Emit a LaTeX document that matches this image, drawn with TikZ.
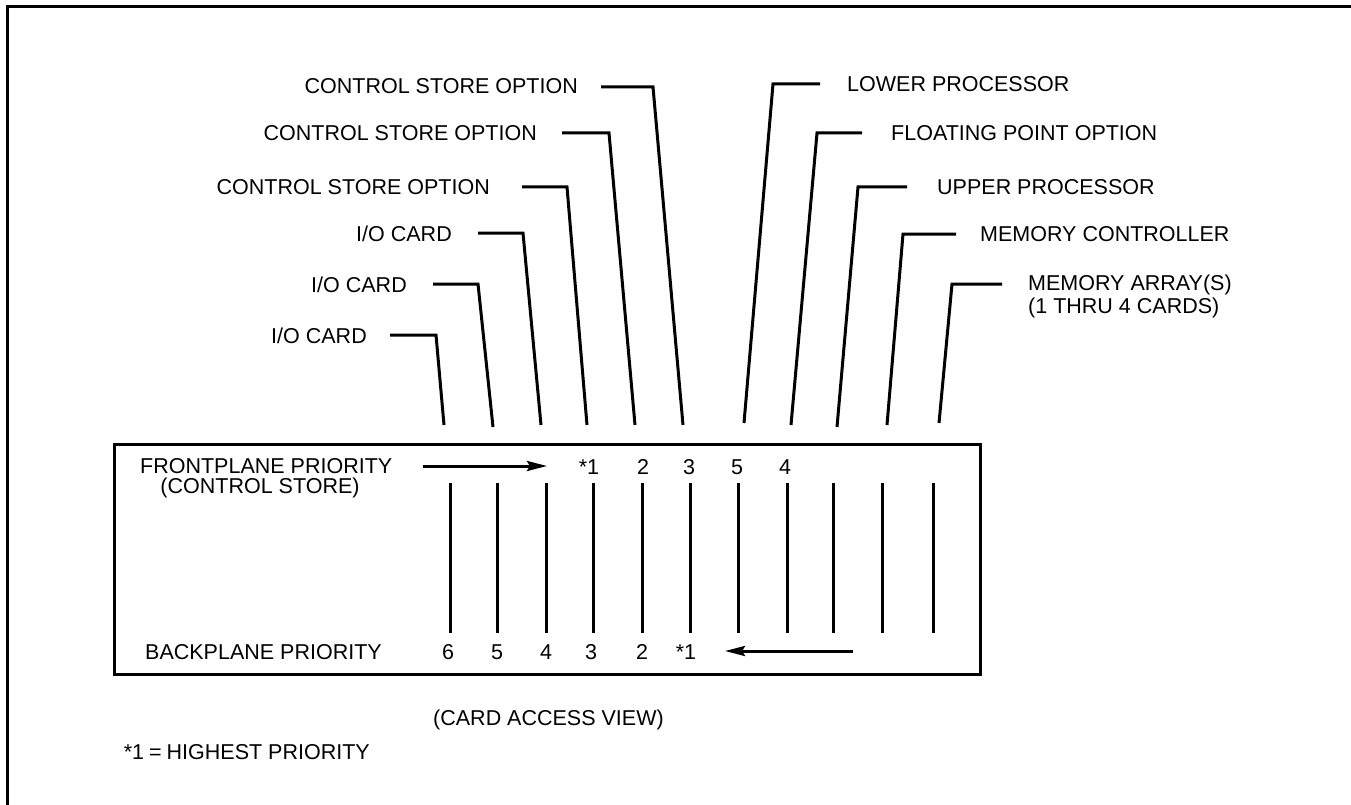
\documentclass[tikz,border=0pt]{standalone}
\usepackage{fontspec}
\setmainfont{Liberation Sans}
\usetikzlibrary{arrows.meta}
\begin{document}
\begin{tikzpicture}[x=1pt,y=-1pt,
  lbl/.style={inner sep=0pt, font=\fontsize{21.5}{24}\selectfont},
  lead/.style={line width=3pt},
  framest/.style={line width=3pt},
  slot/.style={line width=3pt},
  arr/.style={line width=3pt,-{Stealth[length=20pt,width=10pt,inset=3pt]}}]
\useasboundingbox (0,0) rectangle (1351,805);
% outer frame (cropped)
\draw[framest] (7,805) -- (7,7) -- (1351,7);
% main box
\node[draw,framest,inner sep=0pt,minimum width=866pt,minimum height=230pt,anchor=north west] (box) at (113,443) {};
% card slots
\foreach \n/\x in {1/450,2/497,3/546,4/593,5/642,6/690,7/738,8/787,9/833,10/882,11/933}{
  \coordinate (st\n) at (\x,483);
  \coordinate (sb\n) at (\x,633);
  \draw[slot] (st\n) -- (sb\n);
}
% left labels
\node[lbl,anchor=base east] (io1) at (367,343) {I/O CARD};
\node[lbl,anchor=base east] (io2) at (407,292) {I/O CARD};
\node[lbl,anchor=base east] (io3) at (452,241) {I/O CARD};
\node[lbl,anchor=base east] (cs1) at (490,195) {CONTROL STORE OPTION};
\node[lbl,anchor=base east] (cs2) at (537,141) {CONTROL STORE OPTION};
\node[lbl,anchor=base east] (cs3) at (578,94) {CONTROL STORE OPTION};
% right labels
\node[lbl,anchor=base west] (lp) at (847,92) {LOWER PROCESSOR};
\node[lbl,anchor=base west] (fp) at (891,141) {FLOATING POINT OPTION};
\node[lbl,anchor=base west] (up) at (937,195) {UPPER PROCESSOR};
\node[lbl,anchor=base west] (mc) at (980,241) {MEMORY CONTROLLER};
\node[lbl,anchor=base west] (ma) at (1028,290) {MEMORY ARRAY(S)};
\node[lbl,anchor=base west] (ma2) at (1028,313) {(1 THRU 4 CARDS)};
% leader coordinates: start, corner, bottom
\coordinate (a1) at (390,335); \coordinate (c1) at (436,335); \coordinate (b1) at (444,425);
\coordinate (a2) at (433,284); \coordinate (c2) at (478,284); \coordinate (b2) at (493,427);
\coordinate (a3) at (478,233); \coordinate (c3) at (523,233); \coordinate (b3) at (541,425);
\coordinate (a4) at (522,187); \coordinate (c4) at (567,187); \coordinate (b4) at (587,425);
\coordinate (a5) at (562,133); \coordinate (c5) at (609,133); \coordinate (b5) at (635,425);
\coordinate (a6) at (601,87);  \coordinate (c6) at (653,87);  \coordinate (b6) at (683,425);
\coordinate (a7) at (820,84);  \coordinate (c7) at (773,84);  \coordinate (b7) at (744,423);
\coordinate (a8) at (862,133); \coordinate (c8) at (817,133); \coordinate (b8) at (791,425);
\coordinate (a9) at (907,187); \coordinate (c9) at (858,187); \coordinate (b9) at (837,427);
\coordinate (a10) at (956,234); \coordinate (c10) at (903,234); \coordinate (b10) at (887,425);
\coordinate (a11) at (1002,284); \coordinate (c11) at (952,284); \coordinate (b11) at (939,423);
\foreach \i in {1,...,11}{
  \draw[lead] (a\i) -- (c\i) -- (b\i);
}
% frontplane
\node[lbl,anchor=base west] (fpl) at (140,473) {FRONTPLANE PRIORITY};
\node[lbl,anchor=base] (fpl2) at (260,493) {(CONTROL STORE)};
\coordinate (fa1) at (423,466); \coordinate (fa2) at (547,466);
\draw[arr] (fa1) -- (fa2);
\node[lbl,anchor=base] (f1) at (589,474) {*1};
\node[lbl,anchor=base] (f2) at (643,474) {2};
\node[lbl,anchor=base] (f3) at (689,474) {3};
\node[lbl,anchor=base] (f5) at (737,474) {5};
\node[lbl,anchor=base] (f4) at (785,474) {4};
% backplane
\node[lbl,anchor=base west] (bpl) at (145,659) {BACKPLANE PRIORITY};
\node[lbl,anchor=base] (b6n) at (448,659) {6};
\node[lbl,anchor=base] (b5n) at (497,659) {5};
\node[lbl,anchor=base] (b4n) at (546,659) {4};
\node[lbl,anchor=base] (b3n) at (591,659) {3};
\node[lbl,anchor=base] (b2n) at (642,659) {2};
\node[lbl,anchor=base] (b1n) at (686,659) {*1};
\coordinate (ba1) at (853,651); \coordinate (ba2) at (725,651);
\draw[arr] (ba1) -- (ba2);
% captions
\node[lbl,anchor=base west] (view) at (433,725) {(CARD ACCESS VIEW)};
\node[lbl,anchor=base east] (note) at (370,759) {*1\hspace{5pt}=\hspace{5pt}HIGHEST PRIORITY};
\end{tikzpicture}
\end{document}
